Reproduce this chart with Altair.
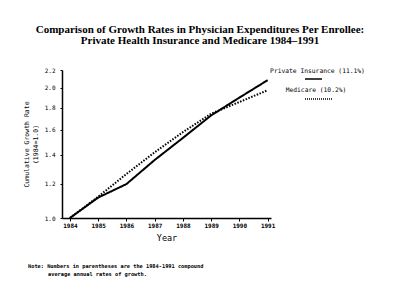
import altair as alt
import pandas as pd

years = [1984, 1985, 1986, 1987, 1988, 1989, 1990, 1991]
private_vals = [1.0, 1.115, 1.198, 1.362, 1.532, 1.727, 1.899, 2.084]
medicare_vals = [1.0, 1.12, 1.264, 1.419, 1.58, 1.743, 1.855, 1.975]
series_names = ["Private Insurance (11.1%)", "Medicare (10.2%)"]
y_ticks = [1.0, 1.2, 1.4, 1.6, 1.8, 2.0, 2.2]
title_lines = ["Comparison of Growth Rates in Physician Expenditures Per Enrollee:",
               "Private Health Insurance and Medicare 1984\u20131991"]
note_lines = ["Note:  Numbers in parentheses are the 1984-1991 compound",
              "average annual rates of growth."]
y_title = ["Cumulative Growth Rate", "(1984=1.0)"]

MONO = "DejaVu Sans Mono"

df = pd.DataFrame({
    "Year": years * 2,
    "Value": private_vals + medicare_vals,
    "Series": [series_names[0]] * len(years) + [series_names[1]] * len(years),
})

lines = alt.Chart(df).mark_line(color="black", strokeWidth=2).encode(
    x=alt.X("Year:Q",
            scale=alt.Scale(domain=[1983.72, 1991.12], nice=False, zero=False),
            axis=alt.Axis(values=years, format="d", title="Year",
                          labelFont=MONO, labelFontSize=6, labelColor="black",
                          labelFontWeight="bold",
                          tickSize=3, labelPadding=1, tickColor="black",
                          domainColor="black", domainWidth=1.5, tickWidth=1,
                          titleFont=MONO, titleFontSize=8.5, titleFontWeight="normal",
                          titlePadding=5, grid=False)),
    y=alt.Y("Value:Q",
            scale=alt.Scale(type="log", domain=[1.0, 2.2], nice=False, zero=False),
            axis=alt.Axis(values=y_ticks, format=".1f", title=y_title,
                          labelFont=MONO, labelFontSize=6, labelColor="black",
                          tickSize=2, labelPadding=5, tickColor="black",
                          domainColor="black", domainWidth=1.5, tickWidth=1,
                          titleFont=MONO, titleFontSize=6.5, titleFontWeight="normal",
                          titlePadding=6, titleLineHeight=9, grid=False)),
    strokeDash=alt.StrokeDash("Series:N",
                              scale=alt.Scale(domain=series_names, range=[[1, 0], [1.5, 1.5]]),
                              legend=None),
    detail="Series:N",
)

title_df = pd.DataFrame({"t": title_lines, "y": [-40, -29]})
title_layer = alt.Chart(title_df).mark_text(
    font="Liberation Serif", fontSize=11, fontWeight="bold", align="center",
    baseline="middle", color="black"
).encode(text="t:N", x=alt.value(138), y=alt.Y("y:Q", scale=None))

leg_df = pd.DataFrame({"t": series_names, "x": [255.5, 254], "y": [1, 20]})
leg_text = alt.Chart(leg_df).mark_text(
    font=MONO, fontSize=6.3, align="center", baseline="middle", color="black"
).encode(text="t:N", x=alt.X("x:Q", scale=None), y=alt.Y("y:Q", scale=None))

leg_solid = alt.Chart(pd.DataFrame({"a": [0]})).mark_rule(color="black", strokeWidth=1.5).encode(
    x=alt.value(243), x2=alt.value(260), y=alt.value(9))
leg_dot = alt.Chart(pd.DataFrame({"a": [0]})).mark_rule(color="black", strokeWidth=1.5,
                                                         strokeDash=[1, 1]).encode(
    x=alt.value(243), x2=alt.value(270), y=alt.value(29))

note_df = pd.DataFrame({"t": note_lines, "x": [-34, -14], "y": [196, 204]})
note_layer = alt.Chart(note_df).mark_text(
    font=MONO, fontSize=5.3, align="left", baseline="middle", color="black",
    fontWeight="bold"
).encode(text="t:N", x=alt.X("x:Q", scale=None), y=alt.Y("y:Q", scale=None))

chart = alt.layer(lines, title_layer, leg_text, leg_solid, leg_dot, note_layer).properties(
    width=209, height=148,
    autosize=alt.AutoSizeParams(type="none"),
    padding={"left": 62, "top": 70, "right": 129, "bottom": 88},
    background="white",
).configure_view(stroke=None)

chart.save("out.html", embed_options={"renderer": "svg", "actions": False})
